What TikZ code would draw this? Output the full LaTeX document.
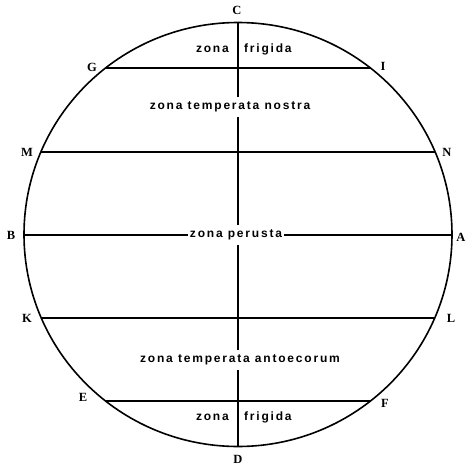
\documentclass[tikz,border=0pt]{standalone}
\usepackage{fontspec}
\newfontfamily\zonefont[LetterSpace=15]{Liberation Sans}
\newfontfamily\letterfont{Liberation Serif}
\tikzset{
  rim/.style={line width=1.6pt},
  chord/.style={line width=1.6pt},
  axis/.style={line width=1.4pt},
  pointlabel/.style={font=\letterfont\bfseries\fontsize{12.5}{14}\selectfont, inner sep=0pt},
  zonetext/.style={font=\zonefont\bfseries\fontsize{12}{14}\selectfont, inner sep=0pt},
  zonebox/.style={zonetext, fill=white, inner xsep=3pt, inner ysep=5pt}
}
\begin{document}
\begin{tikzpicture}[x=1pt,y=-1pt]
\useasboundingbox (0,0) rectangle (467,469);
% circle
\coordinate (O) at (238,234.5);
\draw[rim] (O) ellipse [x radius=214, y radius=212];
% points on circle
\coordinate (C) at (238,22.5);
\coordinate (D) at (238,446.5);
\coordinate (G) at (105.5,68);
\coordinate (I) at (370.5,68);
\coordinate (M) at (40.9,152);
\coordinate (N) at (435.1,152);
\coordinate (B) at (24,235);
\coordinate (A) at (452,235);
\coordinate (K) at (40.9,318);
\coordinate (L) at (435.1,318);
\coordinate (E) at (105.5,401);
\coordinate (F) at (370.5,401);
% lines
\draw[axis] (C) -- (D);
\draw[chord] (G) -- (I);
\draw[chord] (M) -- (N);
\draw[chord] (B) -- (A);
\draw[chord] (K) -- (L);
\draw[chord] (E) -- (F);
% point labels
\node[pointlabel] (lC) at (237,10) {C};
\node[pointlabel] (lD) at (238,459) {D};
\node[pointlabel] (lG) at (92,67) {G};
\node[pointlabel] (lI) at (383,66) {I};
\node[pointlabel] (lM) at (27,152) {M};
\node[pointlabel] (lN) at (447,152) {N};
\node[pointlabel] (lB) at (11,235) {B};
\node[pointlabel] (lA) at (461,237) {A};
\node[pointlabel] (lK) at (27,318) {K};
\node[pointlabel] (lL) at (451,318) {L};
\node[pointlabel] (lE) at (83,397) {E};
\node[pointlabel] (lF) at (385,403) {F};
% zone labels
\node[zonetext, anchor=mid east] (z1a) at (229,50) {zona};
\node[zonetext, anchor=mid west] (z1b) at (244,50) {frigida};
\node[zonebox] (z2) at (230,107) {zona temperata nostra};
\node[zonebox, inner xsep=2pt] (z3) at (236,235) {zona perusta};
\node[zonebox] (z4) at (240,360) {zona temperata antoecorum};
\node[zonetext, anchor=mid east] (z5a) at (229,418) {zona};
\node[zonetext, anchor=mid west] (z5b) at (244,418) {frigida};
\end{tikzpicture}
\end{document}
